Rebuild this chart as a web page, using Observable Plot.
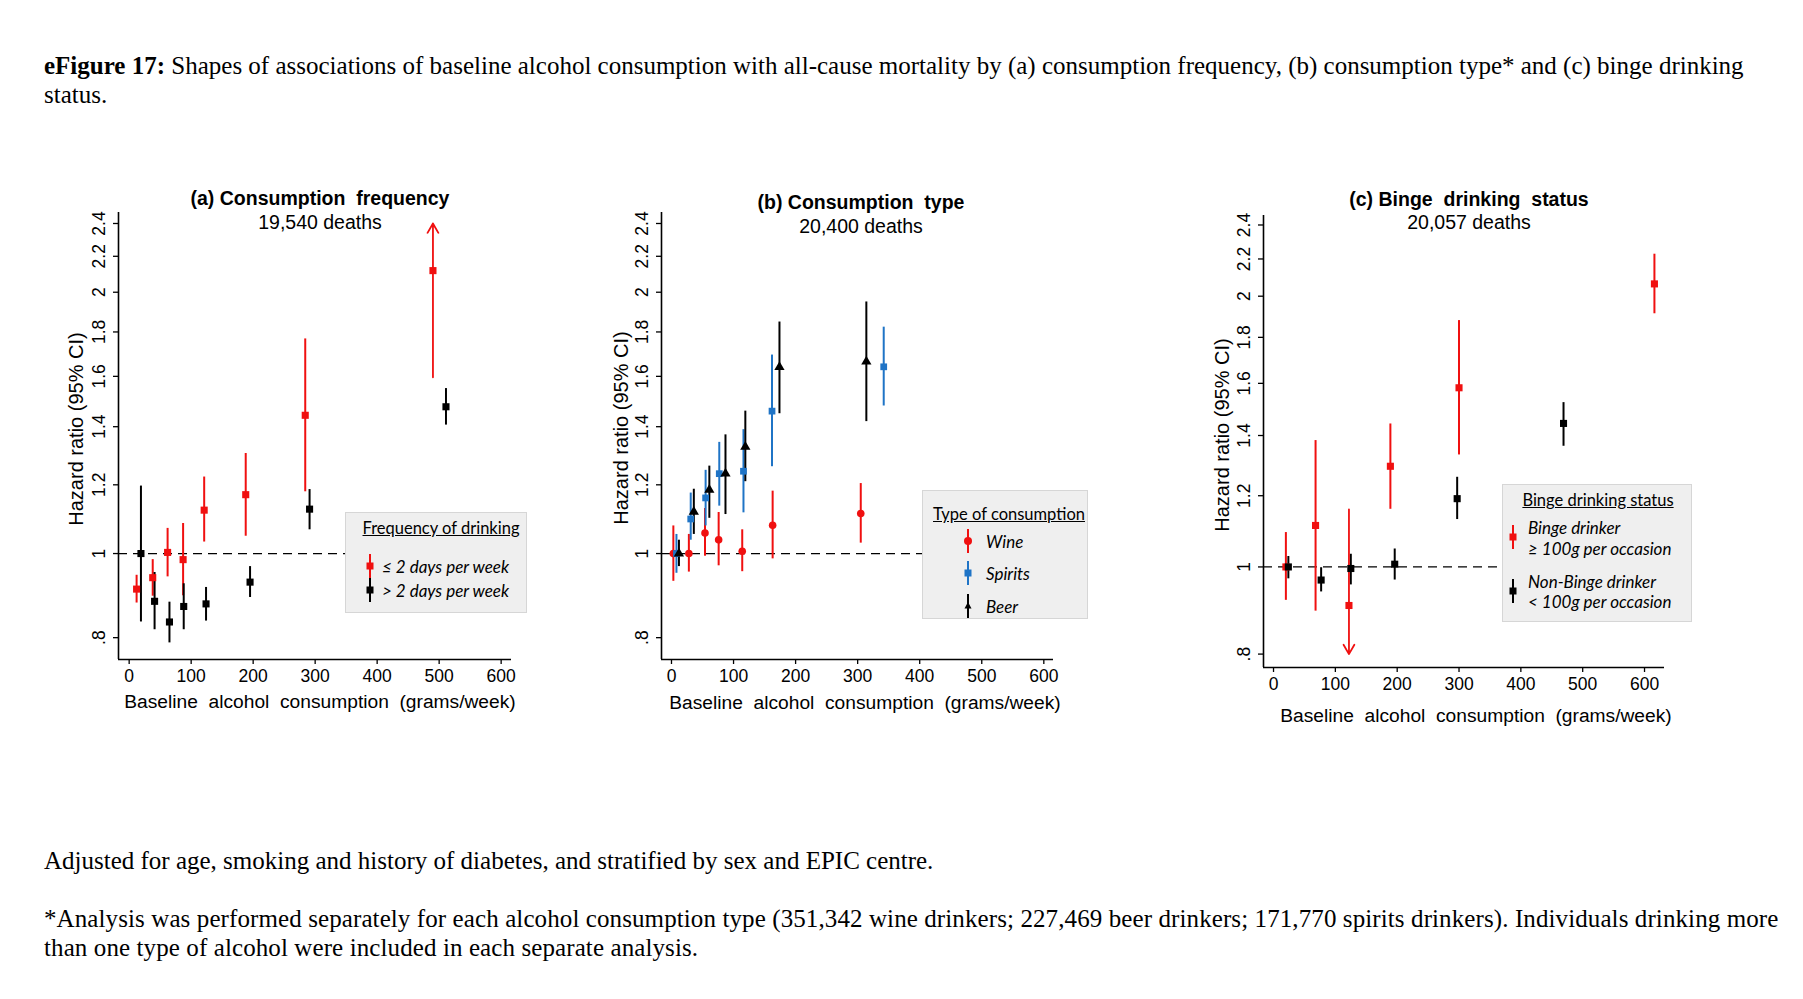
<!DOCTYPE html>
<html><head><meta charset="utf-8">
<script src="https://cdn.jsdelivr.net/npm/d3@7"></script>
<script src="https://cdn.jsdelivr.net/npm/@observablehq/plot@0.6"></script>
<style>
html,body{margin:0;padding:0;background:#fff;}
body{width:1803px;height:999px;position:relative;overflow:hidden;}
.abs{position:absolute;white-space:nowrap;}
.serif{font-family:"Liberation Serif","Times New Roman",serif;font-size:25px;color:#000;line-height:28.5px;}
.sans{font-family:"Liberation Sans",Arial,sans-serif;color:#000;}
.c{transform:translate(-50%,-50%);}
.rot{transform:translate(-50%,-50%) rotate(-90deg);}
.legend{position:absolute;background:#efefef;border:1.5px solid #d6d6d6;box-sizing:border-box;font-family:Lato,"Open Sans",sans-serif;font-size:17px;color:#000;}
.legend .t{position:absolute;white-space:nowrap;text-decoration:underline;transform:translate(-50%,-50%);font-size:16.5px;}
.legend .i{position:absolute;white-space:nowrap;font-style:italic;transform:translateY(-50%);}
.legend svg{position:absolute;}
</style>
</head><body>
<script>
// ---------- data ----------
const yTicks = [0.8, 1, 1.2, 1.4, 1.6, 1.8, 2, 2.2, 2.4];
const yTickLabels = [".8", "1", "1.2", "1.4", "1.6", "1.8", "2", "2.2", "2.4"];
const xTicks = [0, 100, 200, 300, 400, 500, 600];

// (a) consumption frequency
const freqGroups = ["≤ 2 days per week", "> 2 days per week"];
const lowX  = [12, 38, 62, 87, 121, 188, 284, 490];
const lowHR = [0.910, 0.938, 1.003, 0.984, 1.122, 1.169, 1.443, 2.118];
const lowLo = [0.877, 0.893, 0.940, 0.894, 1.031, 1.047, 1.178, 1.596];
const lowHi = [0.944, 0.984, 1.069, 1.083, 1.225, 1.304, 1.767, 2.400];
const lowTrunc = [0, 0, 0, 0, 0, 0, 0, 1];
const highX  = [19, 41, 65, 88, 124, 195, 291, 511];
const highHR = [1.000, 0.881, 0.834, 0.869, 0.875, 0.927, 1.125, 1.476];
const highLo = [0.834, 0.817, 0.789, 0.817, 0.836, 0.890, 1.065, 1.406];
const highHi = [1.196, 0.951, 0.879, 0.923, 0.914, 0.966, 1.185, 1.549];
const highTrunc = [0, 0, 0, 0, 0, 0, 0, 0];

// (b) consumption type
const typeGroups = ["Wine", "Spirits", "Beer"];
const wineX  = [3, 28, 54, 76, 114, 163, 305];
const wineHR = [1.000, 1.000, 1.056, 1.037, 1.006, 1.078, 1.112];
const wineLo = [0.929, 0.952, 0.993, 0.968, 0.953, 0.986, 1.028];
const wineHi = [1.076, 1.052, 1.127, 1.115, 1.065, 1.180, 1.204];
const spiritsX  = [8, 31, 55, 77, 116, 162, 342];
const spiritsHR = [1.000, 1.096, 1.159, 1.236, 1.244, 1.459, 1.641];
const spiritsLo = [0.949, 1.036, 1.076, 1.134, 1.114, 1.259, 1.479];
const spiritsHi = [1.052, 1.174, 1.247, 1.343, 1.389, 1.693, 1.823];
const beerX  = [12, 36, 61, 87, 119, 174, 314];
const beerHR = [1.000, 1.117, 1.184, 1.236, 1.327, 1.640, 1.664];
const beerLo = [0.966, 1.052, 1.098, 1.109, 1.210, 1.449, 1.419];
const beerHi = [1.036, 1.186, 1.261, 1.370, 1.459, 1.848, 1.949];
const noTrunc7 = [0, 0, 0, 0, 0, 0, 0];

// (c) binge drinking status
const bingeGroups = ["Binge drinker", "Non-Binge drinker"];
const bingeX  = [20, 68, 122, 189, 300, 616];
const bingeHR = [1.000, 1.112, 0.906, 1.294, 1.582, 2.064];
const bingeLo = [0.918, 0.893, 0.800, 1.159, 1.332, 1.912];
const bingeHi = [1.092, 1.382, 1.159, 1.442, 1.879, 2.227];
const bingeTrunc = [0, 0, -1, 0, 0, 0];
const nonX  = [24, 77, 125, 196, 297, 469];
const nonHR = [1.000, 0.967, 0.996, 1.007, 1.191, 1.444];
const nonLo = [0.970, 0.938, 0.955, 0.967, 1.129, 1.362];
const nonHi = [1.027, 0.998, 1.033, 1.047, 1.258, 1.523];
const nonTrunc = [0, 0, 0, 0, 0, 0];

const RED = "#f01010", BLUE = "#1f74c6", BLACK = "#000000";

function rows(group, x, hr, lo, hi, trunc) {
  return x.map((v, i) => ({group, x: v, hr: hr[i], lo: lo[i], hi: hi[i], trunc: trunc[i]}));
}

function addDiv(cls, html, left, top, style = "") {
  const d = document.createElement("div");
  d.className = "abs " + cls;
  d.innerHTML = html;
  d.style.cssText = `left:${left}px;top:${top}px;` + style;
  document.body.appendChild(d);
  return d;
}

function makePanel(o) {
  const svgTop = 170;
  const mL = 80, mR = 30, mB = 60;
  const width = o.right - o.left + mL + mR;
  const height = o.bottom + mB - svgTop;
  const data = o.series.flat();
  const normal = data.filter(d => !d.trunc);
  const trunc = data.filter(d => d.trunc);
  const chart = Plot.plot({
    width, height,
    marginLeft: mL, marginRight: mR, marginTop: o.top - svgTop, marginBottom: mB,
    style: {fontFamily: "Liberation Sans, Arial, sans-serif", fontSize: "17.5px", background: "transparent", color: "#000", overflow: "visible"},
    x: {domain: o.xDomain},
    y: {type: "log", domain: o.yDomain},
    color: {type: "ordinal", domain: o.groups, range: o.colors},
    symbol: {domain: o.groups, range: o.symbols},
    marks: [
      Plot.ruleY([1], {stroke: "#000", strokeWidth: 1.3, strokeDasharray: "9,6"}),
      Plot.ruleX(normal, {x: "x", y1: "lo", y2: "hi", stroke: "group", strokeWidth: 2}),
      Plot.arrow(trunc, {x1: "x", x2: "x",
        y1: d => d.trunc > 0 ? d.lo : d.hi, y2: d => d.trunc > 0 ? d.hi : d.lo,
        stroke: "group", strokeWidth: 1.8, headLength: 9}),
      Plot.dot(data, {x: "x", y: "hr", fill: "group", symbol: "group", r: o.r, stroke: null}),
      Plot.ruleX([o.xDomain[0]], {stroke: "#000", strokeWidth: 1.6}),
      Plot.ruleY([o.yDomain[0]], {stroke: "#000", strokeWidth: 1.6}),
      Plot.axisX({ticks: xTicks, tickSize: 5, tickPadding: 5, label: null, strokeWidth: 1.3}),
      Plot.axisY({ticks: yTicks, tickFormat: d => yTickLabels[yTicks.indexOf(d)], tickRotate: -90,
        tickSize: 5, tickPadding: 9, label: null, strokeWidth: 1.3})
    ]
  });
  chart.style.position = "absolute";
  chart.style.left = (o.left - mL) + "px";
  chart.style.top = svgTop + "px";
  document.body.appendChild(chart);
}

function legendSym(color, symbol) {
  let shape;
  if (symbol === "circle") shape = `<circle cx="6" cy="13" r="4" fill="${color}"/>`;
  else if (symbol === "triangle") shape = `<path d="M6,9 L9.5,15.5 L2.5,15.5 Z" fill="${color}"/>`;
  else shape = `<rect x="2.5" y="9.5" width="7" height="7" fill="${color}"/>`;
  return `<line x1="6" x2="6" y1="1" y2="25" stroke="${color}" stroke-width="2"/>${shape}`;
}

function makeLegend(o) {
  const d = document.createElement("div");
  d.className = "legend";
  d.style.cssText = `left:${o.left}px;top:${o.top}px;width:${o.w}px;height:${o.h}px;`;
  let html = `<div class="t" style="left:${o.tx}px;top:${o.ty}px">${o.title}</div>`;
  o.items.forEach(it => {
    html += `<svg style="left:${o.mx - 6}px;top:${it.my - 13}px" width="12" height="26">${legendSym(it.color, it.symbol)}</svg>`;
    it.lines.forEach((ln, k) => {
      html += `<div class="i" style="left:${o.txt}px;top:${it.ly[k]}px">${ln}</div>`;
    });
  });
  d.innerHTML = html;
  document.body.appendChild(d);
}

// ---------- text ----------
addDiv("serif", "<b>eFigure 17:</b> Shapes of associations of baseline alcohol consumption with all-cause mortality by (a) consumption frequency, (b) consumption type* and (c) binge drinking<br>status.", 44, 52);
addDiv("serif", "Adjusted for age, smoking and history of diabetes, and stratified by sex and EPIC centre.", 44, 847);
addDiv("serif", "*Analysis was performed separately for each alcohol consumption type (351,342 wine drinkers; 227,469 beer drinkers; 171,770 spirits drinkers). Individuals drinking more<br>than one type of alcohol were included in each separate analysis.", 44, 905, "letter-spacing:0.1px;");

// ---------- panels ----------
makePanel({
  left: 118, right: 511, top: 212, bottom: 659,
  xDomain: [-17.2, 616.7], yDomain: [0.755, 2.471],
  groups: freqGroups, colors: [RED, BLACK], symbols: ["square", "square"], r: 4,
  series: [rows(freqGroups[0], lowX, lowHR, lowLo, lowHi, lowTrunc),
           rows(freqGroups[1], highX, highHR, highLo, highHi, highTrunc)]
});
makePanel({
  left: 661, right: 1053, top: 212, bottom: 659,
  xDomain: [-16.1, 615.6], yDomain: [0.755, 2.471],
  groups: typeGroups, colors: [RED, BLUE, BLACK], symbols: ["circle", "square", "triangle"], r: 3.8,
  series: [rows("Wine", wineX, wineHR, wineLo, wineHi, noTrunc7),
           rows("Spirits", spiritsX, spiritsHR, spiritsLo, spiritsHi, noTrunc7),
           rows("Beer", beerX, beerHR, beerLo, beerHi, noTrunc7)]
});
makePanel({
  left: 1263, right: 1664, top: 215, bottom: 667,
  xDomain: [-16.2, 632.3], yDomain: [0.773, 2.459],
  groups: bingeGroups, colors: [RED, BLACK], symbols: ["square", "square"], r: 4,
  series: [rows(bingeGroups[0], bingeX, bingeHR, bingeLo, bingeHi, bingeTrunc),
           rows(bingeGroups[1], nonX, nonHR, nonLo, nonHi, nonTrunc)]
});

// titles & axis labels
const xLabel = "Baseline&nbsp; alcohol&nbsp; consumption&nbsp; (grams/week)";
const yLabel = "Hazard ratio (95% CI)";
[
  {t: "(a) Consumption&nbsp; frequency", s: "19,540 deaths", tx: 320, ty: 198, sy: 222, xx: 320, xy: 702, yx: 76, yy: 429},
  {t: "(b) Consumption&nbsp; type", s: "20,400 deaths", tx: 861, ty: 202, sy: 226, xx: 865, xy: 703, yx: 621, yy: 428},
  {t: "(c) Binge&nbsp; drinking&nbsp; status", s: "20,057 deaths", tx: 1469, ty: 199, sy: 222, xx: 1476, xy: 716, yx: 1222, yy: 435}
].forEach(p => {
  addDiv("sans c", p.t, p.tx, p.ty, "font-size:19.5px;font-weight:bold;");
  addDiv("sans c", p.s, p.tx, p.sy, "font-size:19.5px;");
  addDiv("sans c", xLabel, p.xx, p.xy, "font-size:19.2px;");
  addDiv("sans rot", yLabel, p.yx, p.yy, "font-size:20px;");
});

// legends
makeLegend({left: 345, top: 512, w: 182, h: 101, title: "Frequency of drinking", tx: 95, ty: 15, mx: 24, txt: 36,
  items: [{color: RED, symbol: "square", my: 53, lines: ["≤ 2 days per week"], ly: [53]},
          {color: BLACK, symbol: "square", my: 77, lines: ["&gt; 2 days per week"], ly: [77]}]});
makeLegend({left: 922, top: 490, w: 166, h: 129, title: "Type of consumption", tx: 86, ty: 23, mx: 45, txt: 63,
  items: [{color: RED, symbol: "circle", my: 50, lines: ["Wine"], ly: [50]},
          {color: BLUE, symbol: "square", my: 82, lines: ["Spirits"], ly: [82]},
          {color: BLACK, symbol: "triangle", my: 115, lines: ["Beer"], ly: [115]}]});
makeLegend({left: 1502, top: 484, w: 190, h: 138, title: "Binge drinking status", tx: 95, ty: 15, mx: 10, txt: 25,
  items: [{color: RED, symbol: "square", my: 52, lines: ["Binge drinker", "≥ 100g per occasion"], ly: [42, 63]},
          {color: BLACK, symbol: "square", my: 106, lines: ["Non-Binge drinker", "&lt; 100g per occasion"], ly: [96, 116]}]});
</script>
</body></html>
